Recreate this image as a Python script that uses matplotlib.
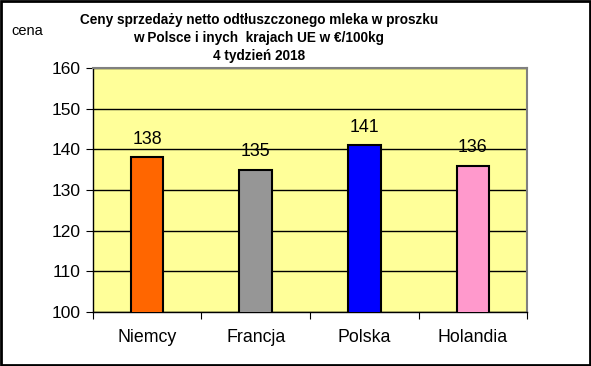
import matplotlib
matplotlib.use("Agg")
import matplotlib.pyplot as plt
from matplotlib.patches import Rectangle

# Data
countries = ["Niemcy", "Francja", "Polska", "Holandia"]
prices = [138, 135, 141, 136]
bar_colors = ["#FF6600", "#969696", "#0000FF", "#FF99CC"]
yticks = [100, 110, 120, 130, 140, 150, 160]

plt.rcParams["font.family"] = ["Liberation Sans", "DejaVu Sans"]

fig = plt.figure(figsize=(5.91, 3.66), dpi=100)
ax = fig.add_axes([0.157, 0.1475, 0.735, 0.667])
ax.set_facecolor("#FFFF99")

x = list(range(len(countries)))
ax.bar(x, prices, width=0.3, color=bar_colors, edgecolor="black", linewidth=1.5, zorder=3)
for xi, v in zip(x, prices):
    ax.text(xi, v + 2.3, str(v), ha="center", va="bottom", fontsize=12.8, zorder=4)

ax.set_xlim(-0.5, len(countries) - 0.5)
ax.set_ylim(100, 160)
ax.set_yticks(yticks)
ax.set_yticklabels([str(t) for t in yticks], fontsize=12.5)
ax.yaxis.grid(True, color="black", linewidth=1)
ax.set_axisbelow(True)

# category labels between ticks
ax.set_xticks([i - 0.5 for i in range(len(countries) + 1)])
ax.set_xticklabels([])
ax.set_xticks(x, minor=True)
ax.set_xticklabels(countries, minor=True, fontsize=12.8)
ax.tick_params(axis="x", which="minor", length=0, pad=12)
ax.tick_params(axis="x", which="major", length=5, direction="out")
ax.tick_params(axis="y", length=5, direction="out", pad=4)

for s in ["top", "right"]:
    ax.spines[s].set_color("#808080")
    ax.spines[s].set_linewidth(1.5)
for s in ["left", "bottom"]:
    ax.spines[s].set_color("black")
    ax.spines[s].set_linewidth(1)

fig.text(0.438, 0.965, "Ceny sprzedaży netto odtłuszczonego mleka w proszku\n"
         "w Polsce i inych  krajach UE w €/100kg\n4 tydzień 2018",
         ha="center", va="top", fontsize=9.8, fontweight="bold", linespacing=1.38)
fig.text(0.02, 0.915, "cena", ha="left", va="center", fontsize=10.5)

fig.patches.append(Rectangle((0.0015, 0.0025), 0.997, 0.995, transform=fig.transFigure,
                             fill=False, edgecolor="black", linewidth=2))

fig.savefig("out.png", dpi=100, facecolor="white")
